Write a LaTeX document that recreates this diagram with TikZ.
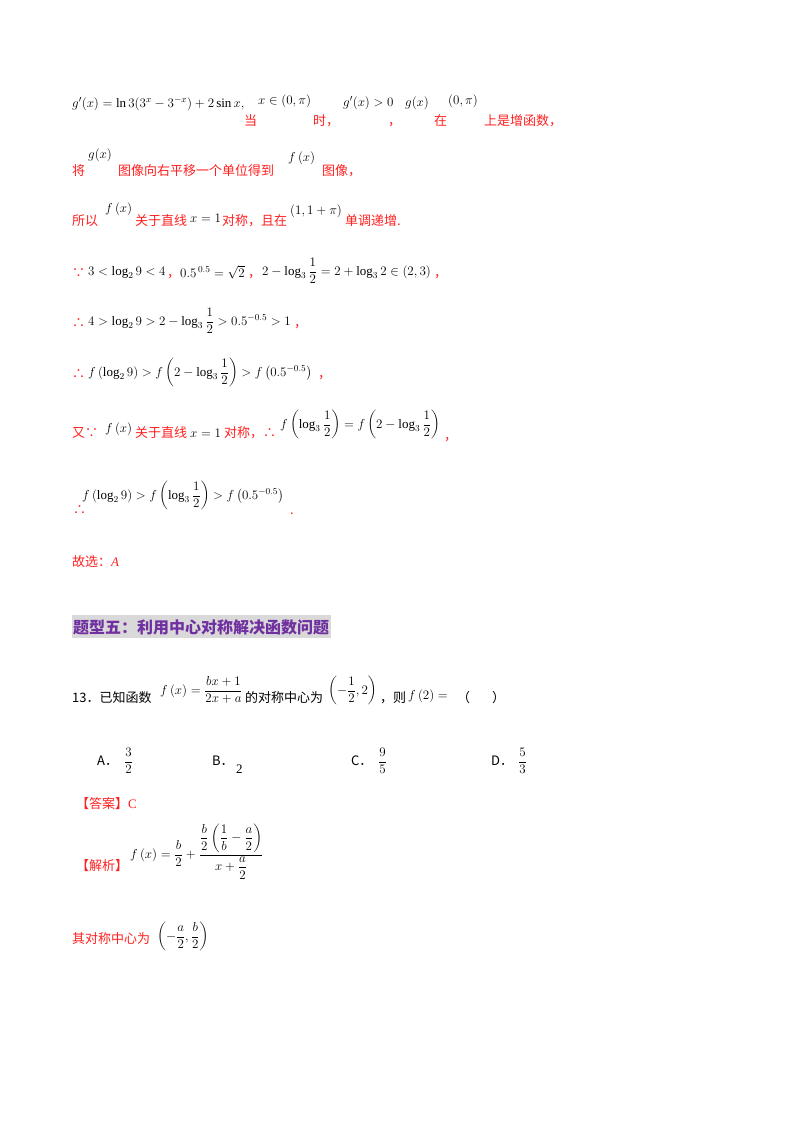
\RequirePackage{fix-cm}
\documentclass[tikz,border=0pt]{standalone}
\usepackage{amsmath}
\usepackage{fontspec}
\setmainfont{Liberation Serif}
\newfontfamily\cjk{Noto Sans CJK SC}
\definecolor{rd}{HTML}{FF2020}
\definecolor{pur}{HTML}{7030A0}
\definecolor{hbg}{HTML}{D9D9D9}
\tikzset{t/.style={anchor=base west,inner sep=0pt,font=\fontsize{13}{15}\selectfont},
 r/.style={t,text=rd,font=\fontsize{13}{15}\selectfont\cjk},
 k/.style={t,font=\fontsize{13}{15}\selectfont\cjk}}
\begin{document}
\begin{tikzpicture}[x=1pt,y=-1pt]
\useasboundingbox (0,0) rectangle (800,1132);
% row 1
\node[t] (a1) at (72,107) {$g'(x)=\ln3(3^x-3^{-x})+2\sin x,$};
\node[r] (a2) at (244,125) {当};
\node[t] (a3) at (258,104) {$x\in(0,\pi)$};
\node[r] (a4) at (313,125) {时，};
\node[t] (a5) at (343,106) {$g'(x)>0$};
\node[r] (a6) at (388,125) {，};
\node[t] (a7) at (405,106) {$g(x)$};
\node[r] (a8) at (434,125) {在};
\node[t] (a9) at (448,104) {$(0,\pi)$};
\node[r] (a10) at (484,125) {上是增函数，};
% row 2
\node[r] (b1) at (72,175) {将};
\node[t] (b2) at (88,158) {$g(x)$};
\node[r] (b3) at (118,175) {图像向右平移一个单位得到};
\node[t] (b4) at (288,161) {$f\left(x\right)$};
\node[r] (b5) at (322,175) {图像，};
% row 3
\node[r] (c1) at (72,225) {所以};
\node[t] (c2) at (105,212) {$f\left(x\right)$};
\node[r] (c3) at (135,225) {关于直线};
\node[t] (c4) at (190,222) {$x=1$};
\node[r] (c5) at (222,225) {对称，且在};
\node[t] (c6) at (290,214) {$(1,1+\pi)$};
\node[r] (c7) at (345,225) {单调递增.};
% row 4
\node[r] (d1) at (72,277) {∵};
\node[t] (d2) at (88,275) {$3<\log_2 9<4$};
\node[r] (d3) at (167,277) {，};
\node[t] (d4) at (180,277) {$0.5^{\,0.5}=\sqrt2$};
\node[r] (d5) at (248,277) {，};
\node[t] (d6) at (262,275) {$2-\log_3\dfrac12=2+\log_3 2\in\left(2,3\right)$};
\node[r] (d7) at (434,277) {，};
% row 5
\node[r] (e1) at (72,327) {∴};
\node[t] (e2) at (88,325) {$4>\log_2 9>2-\log_3\dfrac12>0.5^{-0.5}>1$};
\node[r] (e3) at (294,327) {，};
% row 6
\node[r] (f1) at (72,378) {∴};
\node[t] (f2) at (88,376) {$f\left(\log_2 9\right)>f\left(2-\log_3\dfrac12\right)>f\left(0.5^{-0.5}\right)$};
\node[r] (f3) at (318,378) {，};
% row 7
\node[r] (g1) at (72,437) {又∵};
\node[t] (g2) at (105,432) {$f\left(x\right)$};
\node[r] (g3) at (135,437) {关于直线};
\node[t] (g4) at (190,437) {$x=1$};
\node[r] (g5) at (224,437) {对称，∴};
\node[t] (g6) at (280,428) {$f\left(\log_3\dfrac12\right)=f\left(2-\log_3\dfrac12\right)$};
\node[r] (g7) at (444,440) {，};
% row 8
\node[r] (h1) at (73,514) {∴};
\node[t] (h2) at (82,499) {$f\left(\log_2 9\right)>f\left(\log_3\dfrac12\right)>f\left(0.5^{-0.5}\right)$};
\node[r] (h3) at (290,514) {.};
% row 9
\node[r] (i1) at (72,566) {故选：\textit{\fontspec{Liberation Serif}A}};
% heading
\fill[hbg] (72,615) rectangle (331,638);
\node[t,text=pur,font=\fontsize{16}{18}\selectfont\cjk\bfseries] (hd) at (73,633) {题型五：利用中心对称解决函数问题};
% Q13
\node[k] (q1) at (72,702) {13．已知函数};
\node[t] (q2) at (160,694) {$f\left(x\right)=\dfrac{bx+1}{2x+a}$};
\node[k] (q3) at (245,702) {的对称中心为};
\node[t] (q4) at (328,694) {$\left(-\dfrac12,2\right)$};
\node[k] (q5) at (380,702) {，则};
\node[t] (q6) at (408,699) {$f\left(2\right)=$};
\node[k] (q7) at (457,702) {（\hspace{22pt}）};
% options
\node[k] (oa) at (97,765) {A．};
\node[t] (oa2) at (124,765) {$\dfrac32$};
\node[k] (ob) at (212,765) {B．};
\node[t] (ob2) at (236,773) {2};
\node[k] (oc) at (351,765) {C．};
\node[t] (oc2) at (378,765) {$\dfrac95$};
\node[k] (od) at (491,765) {D．};
\node[t] (od2) at (518,765) {$\dfrac53$};
% answer
\node[r] (an) at (76,808) {【答案】\fontspec{Liberation Serif}C};
\node[r] (jx) at (76,870) {【解析】};
\node[t] (jf) at (130,858) {$f\left(x\right)=\dfrac b2+\dfrac{\dfrac b2\left(\dfrac1b-\dfrac a2\right)}{x+\dfrac a2}$};
\node[r] (dc) at (72,943) {其对称中心为};
\node[t] (dc2) at (157,940) {$\left(-\dfrac a2,\dfrac b2\right)$};
\end{tikzpicture}
\end{document}
